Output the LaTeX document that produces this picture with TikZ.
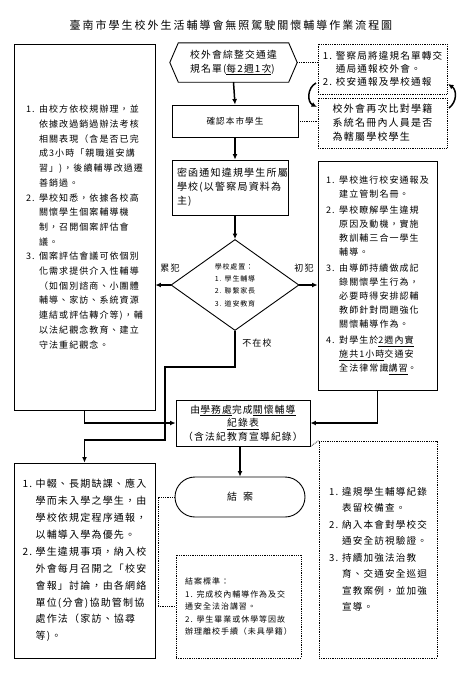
\documentclass[tikz,border=0pt]{standalone}
\usepackage{fontspec}
\setmainfont{Noto Sans CJK TC}[LetterSpace=12]
\usetikzlibrary{arrows.meta,shapes.geometric}
\newcommand{\itm}[1]{\makebox[13pt][l]{#1}}
\newcommand{\ind}{\hspace*{13pt}}
\begin{document}
\begin{tikzpicture}[x=1pt,y=-1pt,
  box/.style={draw,line width=0.9pt,inner sep=0pt,align=left},
  dbox/.style={draw,densely dotted,line width=0.8pt,inner sep=0pt,align=left},
  conn/.style={line width=1.5pt,-{Latex[length=5.5pt,width=5pt]}},
  dlink/.style={densely dotted,line width=0.8pt},
  lbl/.style={inner sep=0pt,font=\fontsize{9}{11}\selectfont}]
\useasboundingbox (0,0) rectangle (467,681);
\fill[white] (0,0) rectangle (467,681);

\node[inner sep=0pt,font=\fontsize{11}{13}\selectfont\addfontfeatures{LetterSpace=18}] (title) at (231,25) {臺南市學生校外生活輔導會無照駕駛關懷輔導作業流程圖};

% left big box
\node[box,minimum width=141,minimum height=366,font=\fontsize{9}{14.7}\selectfont] (lbox) at (84.5,227) {%
\itm{1.}由校方依校規辦理，並\\
\ind 依據改過銷過辦法考核\\
\ind 相關表現（含是否已完\\
\ind 成3小時「親職道安講\\
\ind 習」)，後續輔導改過遷\\
\ind 善銷過。\\
\itm{2.}學校知悉，依據各校高\\
\ind 關懷學生個案輔導機\\
\ind 制，召開個案評估會\\
\ind 議。\\
\itm{3.}個案評估會議可依個別\\
\ind 化需求提供介入性輔導\\
\ind （如個別諮商、小團體\\
\ind 輔導、家訪、系統資源\\
\ind 連結或評估轉介等)，輔\\
\ind 以法紀觀念教育、建立\\
\ind 守法重紀觀念。};

% hexagon
\node[inner sep=0pt,minimum width=127,minimum height=39,align=left,font=\fontsize{9.8}{14}\selectfont] (hex) at (233.5,62.5) {校外會綜整交通違\\規名單(\underline{每2週1次})};
\draw[line width=0.9pt] (hex.west) -- ([xshift=8.5pt]hex.north west) -- ([xshift=-8.5pt]hex.north east) -- (hex.east) -- ([xshift=-8.5pt]hex.south east) -- ([xshift=8.5pt]hex.south west) -- cycle;

% confirm
\node[box,minimum width=126,minimum height=32,font=\fontsize{8.6}{11}\selectfont] (confirm) at (235,121) {確認本市學生};

% right top dotted boxes
\node[dbox,minimum width=129,minimum height=50,font=\fontsize{9.6}{13}\selectfont] (rb1) at (382.5,69) {%
\itm{1.}警察局將違規名單轉交\\
\ind 通局通報校外會。\\
\itm{2.}校安通報及學校通報};
\node[dbox,minimum width=129,minimum height=50,font=\fontsize{10}{14}\selectfont] (rb2) at (382.5,123) {%
校外會再次比對學籍\\系統名冊內人員是否\\為轄屬學校學生};

% secret letter box
\node[box,minimum width=116,minimum height=55,text width=106,font=\fontsize{10}{14}\selectfont] (secret) at (230,187.5) {%
密函通知違規學生所屬\\學校(以警察局資料為\\主)};

% diamond
\node[draw,diamond,line width=0.9pt,minimum width=128,minimum height=91,inner sep=0pt,align=left,font=\fontsize{7}{12.4}\selectfont] (diam) at (235,285) {%
學校處置：\\1. 學生輔導\\2. 聯繫家長\\3. 道安教育};

% middle right box
\node[box,minimum width=119,minimum height=229,font=\fontsize{9}{14}\selectfont] (mrbox) at (377.5,275.5) {%
\itm{1.}學校進行校安通報及\\
\ind 建立管制名冊。\\[2pt]
\itm{2.}學校瞭解學生違規\\
\ind 原因及動機，實施\\
\ind 教訓輔三合一學生\\
\ind 輔導。\\[2pt]
\itm{3.}由導師持續做成記\\
\ind 錄關懷學生行為，\\
\ind 必要時得安排認輔\\
\ind 教師針對問題強化\\
\ind 關懷輔導作為。\\[2pt]
\itm{4.}對學生於\underline{2週內實}\\
\ind \underline{施共1小時}交通安\\
\ind 全法律常識\underline{講習}。};

% record box
\node[box,minimum width=134,minimum height=46,align=center,font=\fontsize{9.8}{13.5}\selectfont] (record) at (243,423) {%
由\underline{學務處}完成\underline{關懷輔導}\\\underline{紀錄表}\\（含法紀教育宣導紀錄）};

% end terminal
\node[draw,line width=0.9pt,rounded corners=20pt,minimum width=130,minimum height=40,inner sep=0pt,font=\fontsize{10}{12}\selectfont] (end) at (240,497) {結\hspace{6pt}案};

% bottom left box
\node[box,minimum width=141,minimum height=195,font=\fontsize{10}{16.9}\selectfont] (lbbox) at (84.5,560.5) {%
\itm{1.}中輟、長期缺課、應入\\
\ind 學而未入學之學生，由\\
\ind 學校依規定程序通報，\\
\ind 以輔導入學為優先。\\
\itm{2.}學生違規事項，納入校\\
\ind 外會每月召開之「校安\\
\ind 會報」討論，由各網絡\\
\ind 單位(分會)協助管制協\\
\ind 處作法（家訪、協尋\\
\ind 等)。};

% closing criteria box
\node[dbox,minimum width=125,minimum height=103,font=\fontsize{8}{12.5}\selectfont] (crit) at (238.5,606.5) {%
結案標準：\\
1. 完成校內輔導作為及交\\
通安全法治講習。\\
2. 學生畢業或休學等因故\\
辦理離校手續（未具學籍）};

% bottom right dotted box
\node[dbox,minimum width=118,minimum height=217,font=\fontsize{9.6}{16.5}\selectfont] (rb3) at (378,549.5) {%
\itm{1.}違規學生輔導紀錄\\
\ind 表留校備查。\\
\itm{2.}納入本會對學校交\\
\ind 通安全訪視驗證。\\
\itm{3.}持續加強法治教\\
\ind 育、交通安全巡迴\\
\ind 宣教案例，並加強\\
\ind 宣導。};

% coordinates
\coordinate (n1) at (165,367);
\coordinate (n2) at (165,440);
\coordinate (d1) at (158,497);
\coordinate (la1) at (316,83);
\coordinate (la2) at (317,107);
\coordinate (ra1) at (449,108);
\coordinate (ra2) at (448,84);

% solid connectors
\draw[conn] (hex.south) -- (confirm.north);
\draw[conn] (confirm.south) -- (confirm.south |- secret.north);
\draw[conn] (confirm.south |- secret.south) -- (diam.north);
\draw[conn] (diam.west) -- (lbox.east |- diam.west);
\draw[conn] (diam.east) -- (mrbox.west |- diam.east);
\draw[conn] (lbox.south) |- (record.west);
\draw[conn] (mrbox.south) |- (record.east);
\draw[conn] (diam.south) |- (n1) -- (n2) -| (lbbox.north);
\draw[conn] (end.north |- record.south) -- (end.north);
\draw[conn] (la1) .. controls (307,88) and (307,102) .. (la2);
\draw[conn] (ra1) .. controls (457,102) and (457,90) .. (ra2);

% dotted connectors
\draw[dlink] (hex.east) -- (hex.east -| rb1.west);
\draw[dlink] (confirm.east) -- (confirm.east -| rb2.west);
\draw[dlink] (end.west) -- (d1) |- (crit.west);
\draw[dlink] (record.south east) -- (rb3.north west);

% labels
\node[lbl] (lb1) at (170,268) {累犯};
\node[lbl] (lb2) at (304,268) {初犯};
\node[lbl] (lb3) at (257,343) {不在校};
\end{tikzpicture}
\end{document}
